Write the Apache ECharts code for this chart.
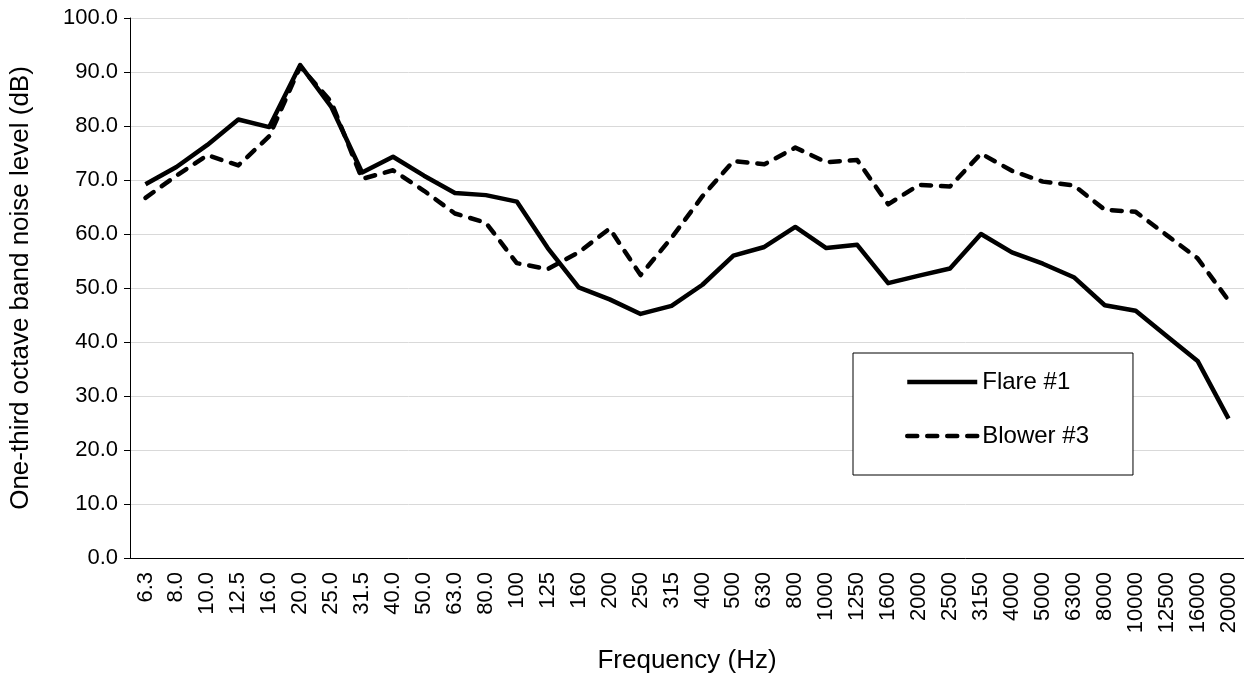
<!DOCTYPE html>
<html>
<head>
<meta charset="utf-8">
<script src="https://cdn.jsdelivr.net/npm/echarts@6/dist/echarts.min.js"></script>
<style>
  html, body { margin: 0; padding: 0; background: #fff; }
  #chart { width: 1244px; height: 681px; }
</style>
</head>
<body>
<div id="chart"></div>
<script>
// 1/3 octave band centre frequencies
const frequencies = ['6.3', '8.0', '10.0', '12.5', '16.0', '20.0', '25.0', '31.5', '40.0', '50.0',
  '63.0', '80.0', '100', '125', '160', '200', '250', '315', '400', '500', '630', '800',
  '1000', '1250', '1600', '2000', '2500', '3150', '4000', '5000', '6300', '8000',
  '10000', '12500', '16000', '20000']

// noise levels (dB)
const flare1 = [69.2, 72.4, 76.5, 81.2, 79.8, 91.3, 83.6, 71.4, 74.3, 70.8,
  67.6, 67.2, 66.0, 57.4, 50.1, 47.9, 45.2, 46.7, 50.6, 56.0, 57.6, 61.3,
  57.4, 58.0, 50.9, 52.3, 53.6, 60.0, 56.6, 54.5, 52.0, 46.8, 45.8, 41.1, 36.5, 25.8]

const blower3 = [66.7, 70.8, 74.6, 72.7, 78.1, 91.0, 84.5, 70.2, 71.8, 68.0,
  63.8, 62.1, 54.6, 53.5, 56.6, 61.0, 52.4, 59.3, 67.0, 73.5, 72.9, 76.0,
  73.3, 73.7, 65.5, 69.1, 68.8, 74.9, 71.7, 69.7, 69.0, 64.5, 64.1, 59.8, 55.5, 47.7]

const yTicks = { min: 0, max: 100, interval: 10 }

const font = 'Liberation Sans, Arial, sans-serif'

const chart = echarts.init(document.getElementById('chart'))

chart.setOption({
  animation: false,
  grid: { left: 130, right: 0, top: 18, bottom: 123 },
  legend: {
    orient: 'vertical',
    left: 853,
    top: 353,
    padding: [17, 44, 27, 52],
    itemGap: 30,
    itemWidth: 70,
    itemHeight: 14,
    borderColor: '#000',
    borderWidth: 1,
    backgroundColor: '#fff',
    lineStyle: { width: 4.5 },
    itemStyle: { color: 'rgba(0,0,0,0)', borderWidth: 0 },
    textStyle: { fontFamily: font, fontSize: 24, color: '#000' },
    data: ['Flare #1', 'Blower #3']
  },
  xAxis: {
    type: 'category',
    data: frequencies,
    name: 'Frequency (Hz)',
    nameLocation: 'middle',
    nameGap: 90,
    nameTextStyle: { fontFamily: font, fontSize: 26, color: '#000' },
    axisLine: { lineStyle: { color: '#000', width: 1 } },
    axisTick: { alignWithLabel: true, length: 6, lineStyle: { color: '#000' } },
    axisLabel: { rotate: 90, interval: 0, fontFamily: font, fontSize: 22, color: '#000', margin: 14 },
    splitLine: { show: false }
  },
  yAxis: {
    type: 'value',
    min: yTicks.min,
    max: yTicks.max,
    interval: yTicks.interval,
    name: 'One-third octave band noise level (dB)',
    nameLocation: 'middle',
    nameGap: 96,
    nameTextStyle: { fontFamily: font, fontSize: 26, color: '#000' },
    axisLine: { show: true, lineStyle: { color: '#000', width: 1 } },
    axisTick: { show: true, length: 6, lineStyle: { color: '#000' } },
    axisLabel: {
      fontFamily: font, fontSize: 22, color: '#000', margin: 12,
      formatter: v => v.toFixed(1)
    },
    splitLine: { lineStyle: { color: '#d9d9d9', width: 1 } }
  },
  series: [
    {
      name: 'Flare #1',
      type: 'line',
      data: flare1,
      symbol: 'none',
      lineStyle: { color: '#000', width: 4.5, join: 'round' },
      itemStyle: { color: '#000' }
    },
    {
      name: 'Blower #3',
      type: 'line',
      data: blower3,
      symbol: 'none',
      lineStyle: { color: '#000', width: 4.5, type: [10, 10], cap: 'round', join: 'round' },
      itemStyle: { color: '#000' }
    }
  ]
})
</script>
</body>
</html>
